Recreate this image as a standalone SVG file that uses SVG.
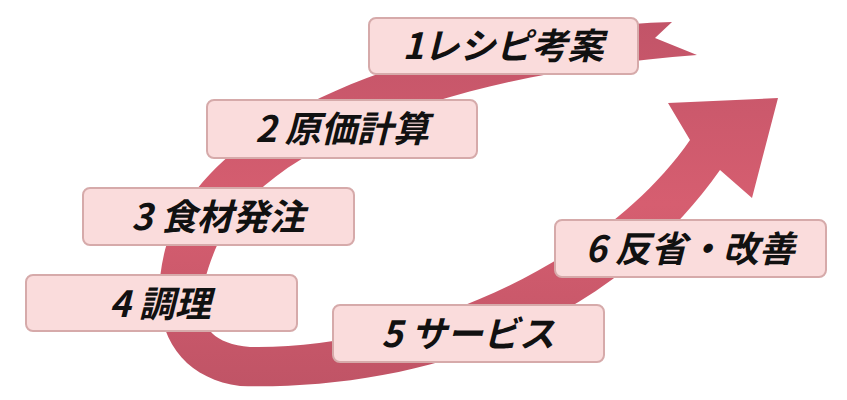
<svg xmlns="http://www.w3.org/2000/svg" width="847" height="400" viewBox="0 0 847 400">
<style>
.b{fill:#fadcdc;stroke:#d6aaaa;stroke-width:2}
.t{font-family:"Noto Sans CJK JP","Noto Sans",sans-serif;font-weight:bold;font-style:italic;font-size:36px;fill:#111;text-anchor:middle}
</style>
<defs>
<linearGradient id="g" x1="0" y1="0" x2="0" y2="1">
<stop offset="0" stop-color="#c25468"/>
<stop offset="0.5" stop-color="#d65e70"/>
<stop offset="1" stop-color="#c05466"/>
</linearGradient>
</defs>
<g id="connectors">
<path fill="url(#g)" d="M672,22 L655,38 L697,55 C470,72 260,140 215,250 C195,300 190,342 250,347 C400,350 600,270 690,140 L668,103 L778,98 L752,198 L720,170 C600,340 400,390 240,386 C180,378 145,330 165,250 C200,120 420,30 672,22 Z"/>
</g>
<g id="n1"><rect class="b" x="369" y="18" width="269" height="56" rx="7"/><text class="t" x="503" y="59">1レシピ考案</text></g>
<g id="n2"><rect class="b" x="207" y="100" width="270" height="58" rx="7"/><text class="t" x="342" y="142">2 原価計算</text></g>
<g id="n3"><rect class="b" x="83" y="188" width="271" height="57" rx="7"/><text class="t" x="218" y="230">3 食材発注</text></g>
<g id="n4"><rect class="b" x="26" y="275" width="271" height="56" rx="7"/><text class="t" x="160" y="317">4 調理</text></g>
<g id="n5"><rect class="b" x="333" y="305" width="271" height="57" rx="7"/><text class="t" x="468" y="347">5 サービス</text></g>
<g id="n6"><rect class="b" x="555" y="220" width="271" height="57" rx="7"/><text class="t" x="690" y="262">6 反省・改善</text></g>
</svg>
